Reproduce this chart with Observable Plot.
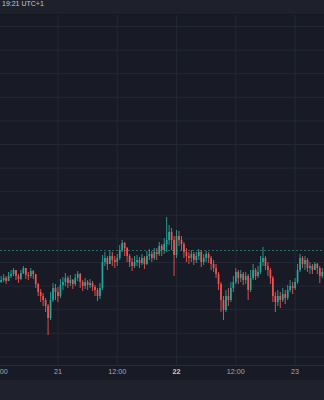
<!DOCTYPE html>
<html>
<head>
<meta charset="utf-8">
<script src="https://cdn.jsdelivr.net/npm/d3@7"></script>
<script src="https://cdn.jsdelivr.net/npm/@observablehq/plot@0.6"></script>
<style>
  html, body { margin: 0; padding: 0; background: #181b25; overflow: hidden; width: 324px; height: 400px; }
  #top { height: 15px; line-height: 15px; background: #1e212b; color: #c5c7ce; font: 7px "Liberation Sans", sans-serif; padding-left: 2px; box-sizing: border-box; border-bottom: 1px solid #15181f; }
  #chart svg { display: block; }
  #bottom { height: 20px; background: #1f222c; }
</style>
</head>
<body>
<div id="top">19:21 UTC+1</div>
<div id="chart"></div>
<div id="bottom"></div>
<script>
// 30-minute candles starting 20th 12:30 (UTC), price units
const startTime = Date.UTC(2023, 9, 20, 12, 30);
const firstOpen = 118;
const closes = [
  120,122,119,124,126,130,124,121,127,132,
  125,124,129,126,116,108,104,100,94,82,
  100,112,108,104,115,118,122,117,120,116,
  122,126,118,114,118,115,117,113,110,104,
  112,138,142,136,144,140,138,142,150,157,
  152,144,138,134,138,140,137,142,136,144,
  146,142,148,146,154,150,156,160,168,160,
  145,164,160,156,148,144,142,146,140,144,
  148,138,142,146,142,136,132,126,116,100,
  90,104,100,112,118,128,122,126,120,124,
  110,122,130,124,128,138,142,134,130,122,
  104,98,104,100,106,102,110,114,112,118,
  130,142,136,140,132,134,130,136,132,124,
  128
];
const highs = [
  124,126,124,128,130,132,129,126,130,134,
  132,128,132,130,126,117,111,107,102,96,
  108,117,116,113,121,123,127,124,125,121,
  126,129,127,120,122,120,121,119,115,112,
  117,145,148,144,150,148,144,146,155,160,
  158,153,146,142,144,145,143,146,144,149,
  151,149,152,152,158,156,162,183,175,172,
  164,170,169,164,158,152,148,150,148,148,
  151,150,146,149,148,144,140,136,128,118,
  104,110,112,118,124,132,130,130,128,128,
  126,130,136,132,134,144,153,144,138,132,
  124,108,110,108,112,110,115,120,118,122,
  136,146,144,144,142,138,136,138,137,134,
  132
];
const lows = [
  117,118,116,119,122,124,120,117,120,126,
  121,120,122,121,112,104,98,94,88,65,
  80,98,100,98,102,110,114,112,114,111,
  114,119,112,109,111,110,112,109,104,99,
  101,110,134,130,136,134,132,134,140,148,
  144,138,133,129,132,134,132,135,131,135,
  140,138,140,140,144,144,146,148,155,150,
  124,142,154,150,142,138,136,138,135,137,
  140,133,135,138,137,130,128,122,110,88,
  80,88,94,98,108,116,116,118,115,116,
  100,108,120,120,122,126,134,130,124,116,
  98,88,94,92,98,96,100,108,106,110,
  116,128,132,130,128,126,126,130,126,117,
  122
];
const refPrice = 150;
const gridPrices = [374, 350.4, 326.8, 303.2, 279.6, 256, 232.4, 208.8, 185.2, 161.6, 138, 114.4, 90.8, 67.2, 43.6];
const tickTimes = [
  Date.UTC(2023, 9, 20, 12), Date.UTC(2023, 9, 21, 0), Date.UTC(2023, 9, 21, 12),
  Date.UTC(2023, 9, 22, 0), Date.UTC(2023, 9, 22, 12), Date.UTC(2023, 9, 23, 0)
];
const tickLabels = ["12:00", "21", "12:00", "22", "12:00", "23"];
const tickBold = [false, false, false, true, false, false];

const UP = "#26a69a", DOWN = "#ef5350";
const candles = closes.map((c, i) => {
  const o = i === 0 ? firstOpen : closes[i - 1];
  return {
    t: new Date(startTime + i * 30 * 60 * 1000),
    open: o, close: c,
    high: Math.max(highs[i], o, c),
    low: Math.min(lows[i], o, c)
  };
});
const up = candles.filter(d => d.close >= d.open);
const down = candles.filter(d => d.close < d.open);
const ticks = tickTimes.map((t, i) => ({t: new Date(t), label: tickLabels[i], bold: tickBold[i]}));

const grid = "#242834";
const chart = Plot.plot({
  width: 324, height: 365,
  marginTop: 0, marginBottom: 15, marginLeft: 0, marginRight: 0,
  x: {type: "utc", domain: [new Date(Date.UTC(2023, 9, 20, 12, 22)), new Date(Date.UTC(2023, 9, 23, 5, 57))], axis: null},
  y: {domain: [35, 385], axis: null},
  style: {background: "#181b25", fontFamily: "'Liberation Sans', sans-serif", overflow: "hidden"},
  marks: [
    Plot.ruleY(gridPrices, {stroke: grid, strokeWidth: 1}),
    Plot.ruleX(tickTimes.map(t => new Date(t)), {stroke: grid, strokeWidth: 1}),
    Plot.ruleY([refPrice], {stroke: UP, strokeOpacity: 0.6, strokeDasharray: "2,2"}),
    Plot.ruleX(up, {x: "t", y1: "low", y2: "high", stroke: UP, strokeWidth: 0.9}),
    Plot.ruleX(down, {x: "t", y1: "low", y2: "high", stroke: DOWN, strokeWidth: 0.9}),
    Plot.ruleX(up, {x: "t", y1: "open", y2: "close", stroke: UP, strokeWidth: 1.7}),
    Plot.ruleX(down, {x: "t", y1: "open", y2: "close", stroke: DOWN, strokeWidth: 1.7}),
    Plot.frame({anchor: "bottom", stroke: "#2a2e39"}),
    Plot.text(ticks.filter(d => !d.bold), {x: "t", text: "label", frameAnchor: "bottom", dy: 8.5, fill: "#a3a6af", fontSize: 7.2}),
    Plot.text(ticks.filter(d => d.bold), {x: "t", text: "label", frameAnchor: "bottom", dy: 8.5, fill: "#c8cad1", fontSize: 7.2, fontWeight: "bold"})
  ]
});
document.getElementById("chart").appendChild(chart);
</script>
</body>
</html>
